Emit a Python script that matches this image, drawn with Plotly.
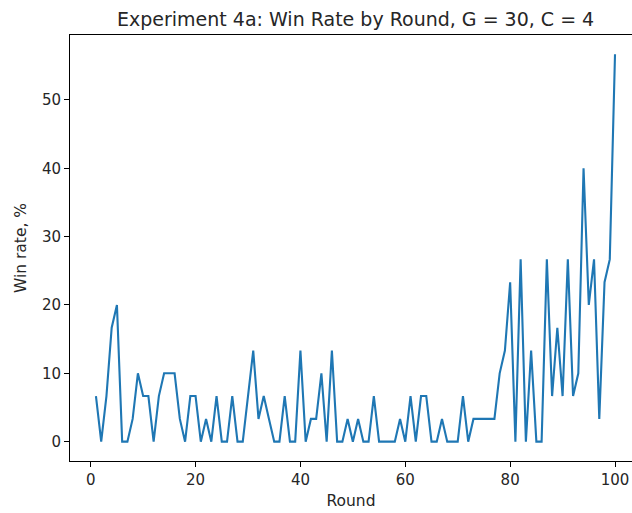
import plotly.graph_objects as go

rounds = list(range(1, 101))
win_rate = [
    6.67, 0, 6.67, 16.67, 20, 0, 0, 3.33, 10, 6.67,
    6.67, 0, 6.67, 10, 10, 10, 3.33, 0, 6.67, 6.67,
    0, 3.33, 0, 6.67, 0, 0, 6.67, 0, 0, 6.67,
    13.33, 3.33, 6.67, 3.33, 0, 0, 6.67, 0, 0, 13.33,
    0, 3.33, 3.33, 10, 0, 13.33, 0, 0, 3.33, 0,
    3.33, 0, 0, 6.67, 0, 0, 0, 0, 3.33, 0,
    6.67, 0, 6.67, 6.67, 0, 0, 3.33, 0, 0, 0,
    6.67, 0, 3.33, 3.33, 3.33, 3.33, 3.33, 10, 13.33, 23.33,
    0, 26.67, 0, 13.33, 0, 0, 26.67, 6.67, 16.67, 6.67,
    26.67, 6.67, 10, 40, 20, 26.67, 3.33, 23.33, 26.67, 56.67,
]
x_ticks = [0, 20, 40, 60, 80, 100]
y_ticks = [0, 10, 20, 30, 40, 50]

title_text = "Experiment 4a: Win Rate by Round, G = 30, C = 4"
x_label = "Round"
y_label = "Win rate, %"

FONT = "DejaVu Sans"
TXT = "#262626"

fig = go.Figure()
fig.add_trace(go.Scatter(
    x=rounds, y=win_rate, mode="lines",
    line=dict(color="#1f77b4", width=2.1),
    showlegend=False, hoverinfo="skip",
))

fig.update_layout(
    width=632, height=513,
    margin=dict(l=70, r=0, t=35, b=52),
    paper_bgcolor="white", plot_bgcolor="white",
    font=dict(family=FONT, size=15, color=TXT),
    annotations=[
        dict(text=title_text, xref="paper", yref="paper", x=0.508, y=1,
             xanchor="center", yanchor="bottom", yshift=3, showarrow=False,
             font=dict(family=FONT, size=19, color=TXT)),
    ],
)
fig.update_xaxes(
    range=[-3.95, 103.24], tickvals=x_ticks,
    showgrid=False, zeroline=False,
    showline=True, linecolor="black", linewidth=1, mirror=True,
    ticks="outside", ticklen=5, tickwidth=1, tickcolor="black",
    tickfont=dict(family=FONT, size=15, color=TXT),
    title=dict(text=x_label, standoff=7, font=dict(family=FONT, size=15.5, color=TXT)),
)
fig.update_yaxes(
    range=[-2.83, 59.5], tickvals=y_ticks,
    showgrid=False, zeroline=False,
    showline=True, linecolor="black", linewidth=1, mirror=False,
    ticks="outside", ticklen=5, tickwidth=1, tickcolor="black",
    tickfont=dict(family=FONT, size=15, color=TXT),
    title=dict(text=y_label, standoff=11, font=dict(family=FONT, size=15.5, color=TXT)),
)

fig.write_html("out.html")
